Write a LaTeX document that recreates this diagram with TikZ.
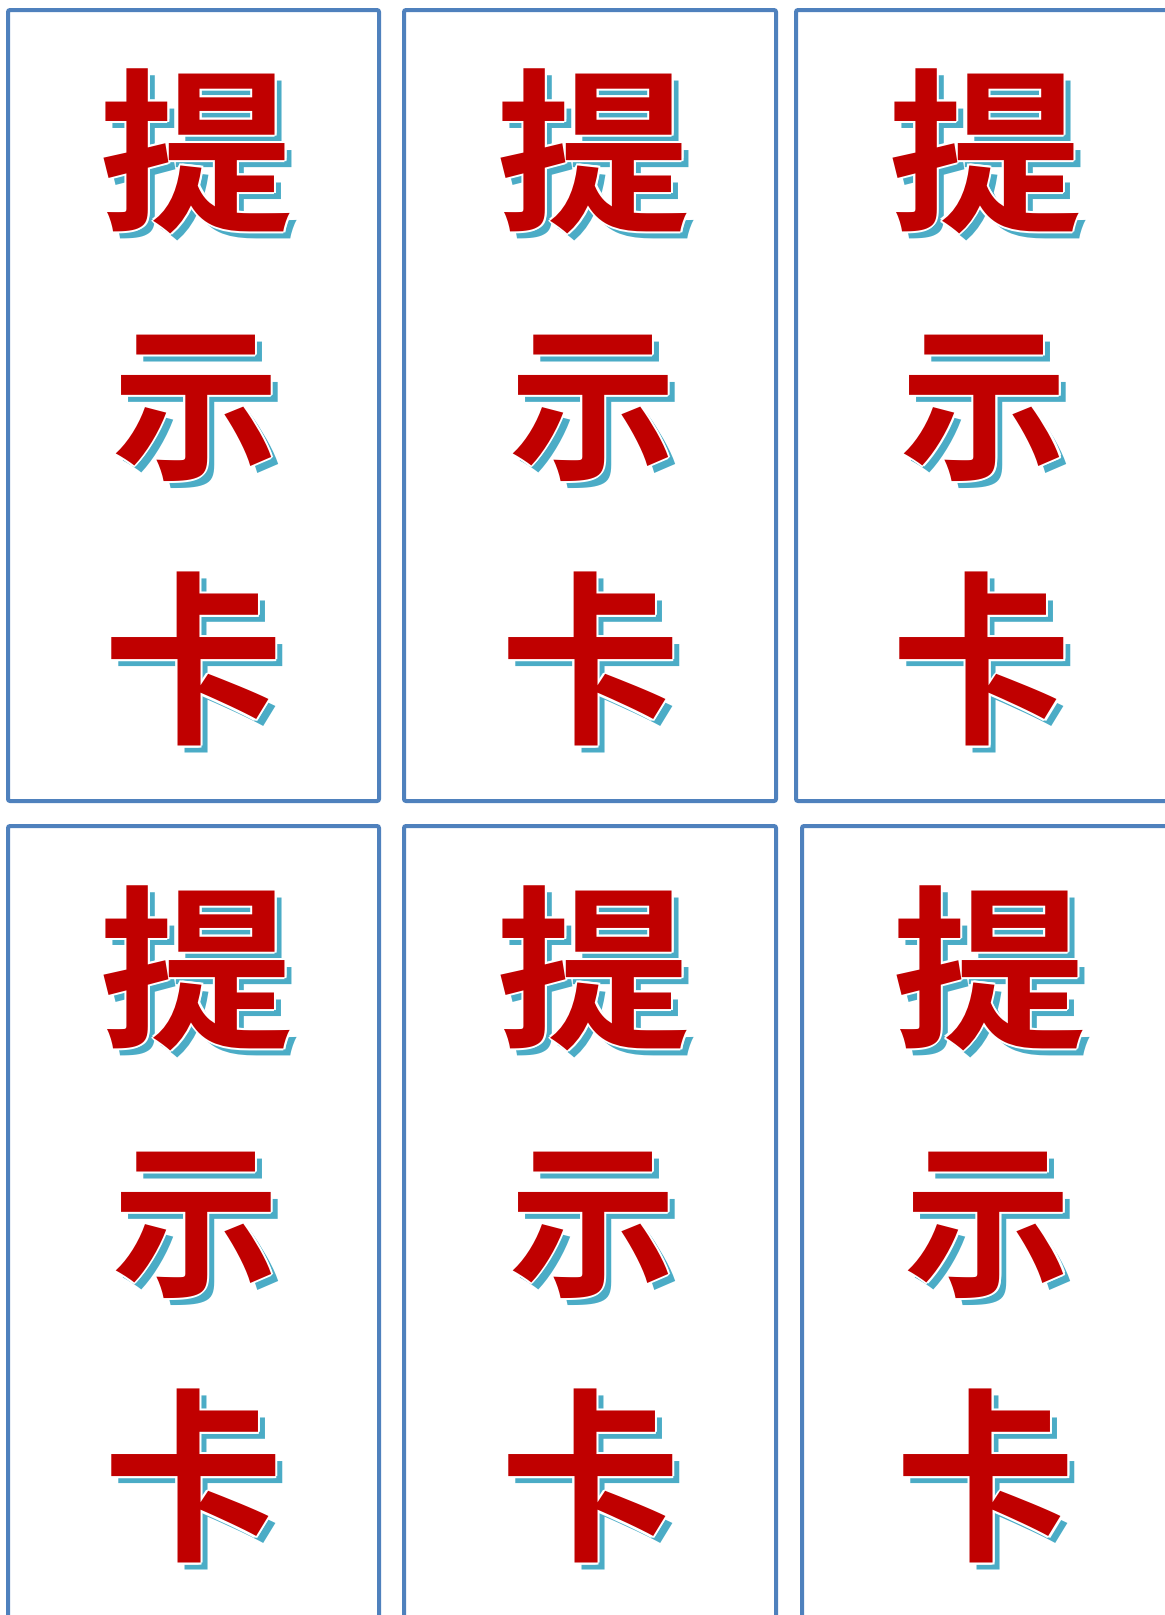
\documentclass[tikz,border=0pt]{standalone}
\usepackage{graphicx}
\usepackage{fontspec}
\newfontfamily\cjk{Noto Sans CJK SC Bold}
\definecolor{cardblue}{HTML}{4F81BD}
\definecolor{shadowblue}{HTML}{4BACC6}
\definecolor{hintred}{HTML}{C00000}
\tikzset{
  card/.style={draw=cardblue, line width=4pt, rounded corners=2pt},
  glyph/.style={font=\cjk\fontsize{180}{180}\selectfont, inner sep=0pt, anchor=center},
}
% name, x, y, character, x-scale, y-scale
\newcommand\hintchar[6]{%
  \node[glyph,text=shadowblue] (#1s) at (#2+7,#3+7) {\scalebox{#5}[#6]{#4}};
  \foreach \dx/\dy [count=\i] in {-2/0,2/0,0/-2,0/2,-1.5/-1.5,1.5/1.5,-1.5/1.5,1.5/-1.5}
    {\node[glyph,text=white] (#1w\i) at (#2+\dx,#3+\dy) {\scalebox{#5}[#6]{#4}};}
  \node[glyph,text=hintred] (#1) at (#2,#3) {\scalebox{#5}[#6]{#4}};}
\begin{document}
\begin{tikzpicture}[x=1pt,y=-1pt]
\useasboundingbox (0,0) rectangle (1165,1615);
% cards, top row
\draw[card] (8,10) rectangle (379,801);
\draw[card] (404,10) rectangle (776,801);
\draw[card] (796,10) rectangle (1200,801);
% cards, bottom row
\draw[card] (8,826) rectangle (379,1622);
\draw[card] (404,826) rectangle (776,1622);
\draw[card] (802,826) rectangle (1200,1622);
% characters, top row
\hintchar{a1}{197}{151}{提}{1.08}{0.98}
\hintchar{a2}{196}{408}{示}{0.93}{0.93}
\hintchar{a3}{193}{659}{卡}{1.0}{1.03}
\hintchar{b1}{594}{151}{提}{1.08}{0.98}
\hintchar{b2}{593}{408}{示}{0.93}{0.93}
\hintchar{b3}{590}{659}{卡}{1.0}{1.03}
\hintchar{c1}{985.5}{151}{提}{1.08}{0.98}
\hintchar{c2}{984.5}{408}{示}{0.93}{0.93}
\hintchar{c3}{981.5}{659}{卡}{1.0}{1.03}
% characters, bottom row
\hintchar{d1}{197}{968}{提}{1.08}{0.98}
\hintchar{d2}{196}{1225}{示}{0.93}{0.93}
\hintchar{d3}{193}{1476}{卡}{1.0}{1.03}
\hintchar{e1}{594}{968}{提}{1.08}{0.98}
\hintchar{e2}{593}{1225}{示}{0.93}{0.93}
\hintchar{e3}{590}{1476}{卡}{1.0}{1.03}
\hintchar{f1}{989.5}{968}{提}{1.08}{0.98}
\hintchar{f2}{988.5}{1225}{示}{0.93}{0.93}
\hintchar{f3}{985.5}{1476}{卡}{1.0}{1.03}
\end{tikzpicture}
\end{document}
